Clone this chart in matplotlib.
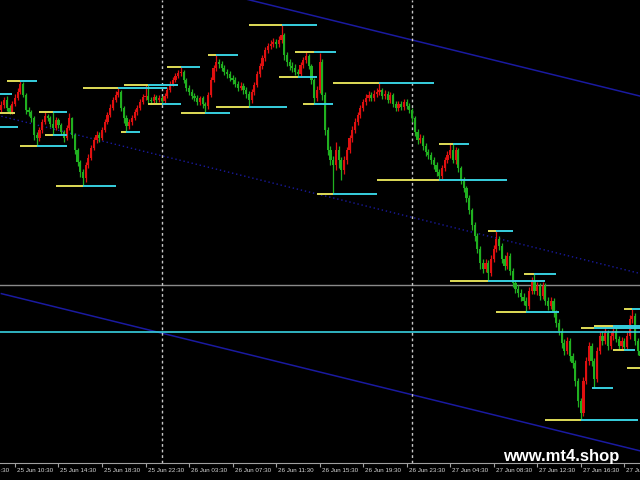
import matplotlib.pyplot as plt
import matplotlib.transforms as mtransforms

# =============================
# Data (M15 bars, prices in points)
# =============================
first_open = 370
closes = [375, 380, 372, 368, 376, 382, 388, 396, 385, 370, 368, 362, 345, 342, 350, 358, 364, 362, 356, 352,
          360, 355, 348, 342, 352, 362, 345, 330, 318, 308, 302, 315, 322, 332, 340, 345, 342, 350, 358, 365,
          372, 380, 385, 388, 372, 362, 354, 358, 362, 368, 372, 378, 383, 384, 380, 379, 383, 380, 382, 379,
          384, 390, 396, 400, 404, 407, 408, 400, 392, 388, 384, 382, 378, 382, 376, 374, 385, 400, 412, 418,
          416, 412, 408, 406, 402, 400, 396, 392, 394, 390, 386, 380, 388, 395, 406, 414, 422, 430, 434, 436,
          438, 436, 440, 445, 425, 418, 414, 412, 408, 406, 415, 420, 424, 414, 400, 382, 390, 418, 385, 350,
          330, 320, 315, 330, 320, 310, 320, 330, 342, 350, 358, 365, 372, 378, 382, 385, 382, 386, 388, 390,
          384, 386, 380, 385, 376, 372, 376, 373, 378, 374, 370, 362, 348, 340, 342, 334, 328, 325, 320, 315,
          308, 304, 312, 320, 325, 330, 320, 330, 312, 300, 292, 282, 270, 255, 245, 232, 218, 212, 218, 208,
          222, 232, 242, 235, 222, 215, 225, 210, 198, 192, 188, 184, 180, 175, 190, 200, 190, 195, 185, 195,
          180, 175, 180, 168, 158, 150, 138, 130, 140, 125, 118, 100, 80, 68, 100, 120, 135, 120, 102, 130,
          145, 140, 148, 135, 145, 150, 142, 135, 140, 134, 145, 162, 165, 140, 130, 125]
highs = [379, 383, 384, 375, 379, 386, 392, 399, 398, 387, 373, 370, 364, 348, 353, 361, 368, 366, 364, 368,
         363, 362, 357, 350, 355, 367, 363, 347, 332, 320, 311, 318, 326, 335, 343, 349, 348, 353, 361, 368,
         376, 383, 389, 392, 390, 374, 365, 361, 365, 371, 375, 381, 386, 395, 395, 383, 386, 385, 385, 384,
         387, 393, 399, 403, 407, 410, 413, 410, 402, 395, 391, 387, 385, 384, 384, 378, 388, 403, 415, 425,
         421, 419, 415, 411, 409, 405, 403, 399, 398, 397, 393, 389, 391, 398, 409, 417, 425, 433, 437, 440,
         442, 441, 444, 455, 447, 428, 421, 418, 416, 411, 418, 423, 428, 426, 416, 402, 394, 427, 421, 388,
         353, 334, 324, 338, 334, 323, 324, 333, 345, 354, 362, 368, 375, 381, 386, 389, 388, 390, 392, 397,
         392, 390, 389, 388, 387, 379, 379, 379, 381, 381, 377, 372, 364, 351, 346, 345, 337, 331, 328, 323,
         318, 311, 315, 323, 329, 336, 336, 333, 332, 314, 303, 294, 285, 272, 258, 248, 235, 222, 222, 221,
         226, 236, 249, 245, 238, 226, 229, 228, 213, 201, 196, 192, 188, 184, 194, 204, 207, 199, 198, 199,
         198, 184, 184, 183, 171, 162, 153, 142, 144, 143, 128, 121, 103, 83, 104, 124, 139, 138, 123, 134,
         149, 150, 153, 151, 149, 155, 153, 145, 144, 143, 149, 166, 172, 168, 143, 133]
lows = [367, 372, 369, 366, 366, 374, 380, 386, 383, 366, 364, 358, 340, 334, 339, 347, 356, 359, 353, 345,
        350, 352, 345, 338, 340, 350, 342, 326, 314, 303, 294, 298, 312, 320, 330, 337, 338, 340, 348, 356,
        363, 370, 378, 383, 369, 357, 348, 351, 355, 360, 365, 370, 376, 380, 377, 376, 377, 377, 378, 376,
        377, 382, 388, 394, 398, 402, 404, 397, 389, 385, 381, 379, 375, 375, 372, 367, 371, 383, 398, 409,
        412, 409, 405, 402, 399, 396, 393, 389, 390, 386, 382, 373, 377, 385, 393, 403, 411, 419, 427, 431,
        433, 432, 433, 437, 420, 414, 410, 408, 405, 403, 404, 412, 417, 411, 396, 376, 379, 387, 380, 345,
        325, 315, 286, 310, 312, 300, 306, 316, 327, 338, 347, 355, 362, 369, 375, 379, 379, 379, 383, 385,
        381, 381, 377, 377, 373, 369, 369, 370, 370, 371, 367, 358, 344, 336, 337, 330, 324, 321, 316, 311,
        304, 300, 301, 309, 317, 322, 317, 316, 308, 296, 288, 278, 266, 250, 240, 228, 212, 208, 209, 200,
        205, 219, 229, 231, 218, 211, 212, 206, 194, 188, 184, 180, 176, 169, 172, 187, 187, 186, 181, 182,
        176, 171, 172, 164, 154, 146, 133, 126, 127, 120, 113, 95, 74, 61, 65, 97, 116, 115, 93, 99,
        127, 136, 137, 131, 132, 141, 139, 132, 132, 131, 131, 142, 158, 136, 126, 113]

# support / resistance levels: yellow from start to pivot, cyan from pivot to end
level_price = [386, 399, 367, 353, 368, 345, 334, 294, 392, 395, 348, 376, 413, 367, 425, 373, 455, 403,
               428, 376, 397, 286, 300, 336, 249, 200, 207, 169, 153, 155, 131, 172, 113, 93, 61]
level_start = [-2, 2, -2, -2, 14, 16, 7, 20, 30, 45, 44, 54, 61, 66, 76, 79, 91, 102,
               108, 111, 122, 116, 138, 161, 179, 165, 192, 182, 213, 218, 225, 229, 230, 217, 200]
level_pivot = [-2, 7, 5, -2, 19, 19, 13, 30, 43, 54, 46, 59, 66, 75, 79, 91, 103, 109,
               115, 115, 139, 122, 161, 166, 182, 179, 196, 193, 218, 225, 229, 232, 236, 217, 213]
level_end = [4, 13, 5, 6, 24, 24, 24, 42, 61, 65, 51, 66, 73, 84, 87, 105, 116, 116,
             123, 122, 159, 138, 186, 172, 188, 200, 204, 205, 236, 236, 233, 236, 236, 225, 234]

# regression channel (price at first and last bar)
channel_top = [541, 384]
channel_mid = [364, 207]
channel_low = [187, 30]

gray_level = 196
cyan_level = 149
day_separators = [59, 151]

tick_bars = [-11, 5, 21, 37, 53, 69, 85, 101, 117, 133, 149, 165, 181, 197, 213, 229]
tick_labels = ["25 Jun 06:30", "25 Jun 10:30", "25 Jun 14:30", "25 Jun 18:30", "25 Jun 22:30",
               "26 Jun 03:30", "26 Jun 07:30", "26 Jun 11:30", "26 Jun 15:30", "26 Jun 19:30",
               "26 Jun 23:30", "27 Jun 04:30", "27 Jun 08:30", "27 Jun 12:30", "27 Jun 16:30",
               "27 Jun 20:30"]

# =============================
# Chart
# =============================
fig = plt.figure(figsize=(6.4, 4.8), dpi=100, facecolor="black")
ax = fig.add_axes([0, 17 / 480, 1, 463 / 480], facecolor="black")

n = len(closes)
opens = [first_open] + closes[:-1]
bars = list(range(n))

for i in bars:
    o, c = opens[i], closes[i]
    col = "#e01010" if c >= o else "#20b020"
    ax.vlines(i, lows[i], highs[i], color=col, lw=0.9, zorder=2)
    ax.bar(i, max(abs(c - o), 1.5), bottom=min(o, c), width=0.8, color=col, lw=0, zorder=2)

for p, s, m, e in zip(level_price, level_start, level_pivot, level_end):
    if m > s:
        ax.hlines(p, s, m, color="#e0dc58", lw=1.4, zorder=3)
    if e > m:
        ax.hlines(p, m, e, color="#38d0e0", lw=1.4, zorder=3)

ax.axhline(gray_level, color="#8a8a8a", lw=1, zorder=1)
ax.axhline(cyan_level, color="#38d0e0", lw=1.2, zorder=3)

ends = [0, n - 1]
ax.plot(ends, channel_top, color="#1a1aa0", lw=1.1, zorder=1)
ax.plot(ends, channel_low, color="#1a1aa0", lw=1.1, zorder=1)
ax.plot(ends, channel_mid, color="#1a1aa0", lw=1, ls=(0, (1, 2)), zorder=1)

for b in day_separators:
    ax.axvline(b, color="#c8c8c8", lw=1, ls=(0, (2, 2)), zorder=1)

ax.set_yticks([])
for side in ["top", "left", "right"]:
    ax.spines[side].set_visible(False)
ax.spines["bottom"].set_color("#a0a0a0")

ax.set_xticks(tick_bars)
ax.set_xticklabels([])
ax.tick_params(axis="x", direction="out", length=3, color="#a0a0a0")

# time labels drawn by hand, so the half-cut first one shows as in MT4
trans = mtransforms.offset_copy(ax.get_xaxis_transform(), fig=fig, x=2, y=-7, units="dots")
for b, t in zip(tick_bars, tick_labels):
    ax.text(b, 0, t, transform=trans, ha="left", va="center", family="Liberation Sans",
            fontsize=4.5, color="#d8d8d8", clip_on=False)

# limits after ticks, so the ticks do not widen the view
ax.set_xlim(-0.5, 234.8)
ax.set_ylim(18, 480)

fig.text(0.877, 0.049, "www.mt4.shop", color="white", fontsize=12, fontweight="bold",
         family="Liberation Sans", ha="center", va="center")

fig.savefig("out.png", dpi=100, facecolor="black")
